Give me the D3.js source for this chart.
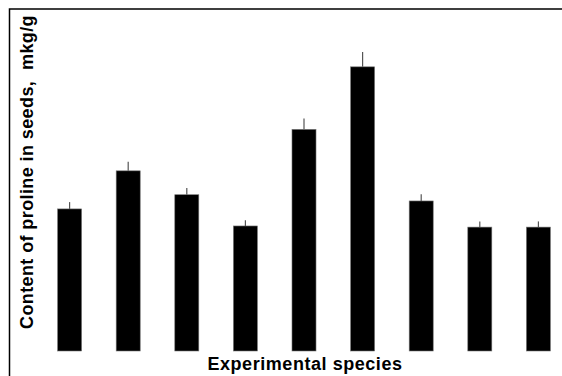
<!DOCTYPE html>
<html>
<head>
<meta charset="utf-8">
<script src="https://cdn.jsdelivr.net/npm/d3@7"></script>
<style>
  html, body { margin: 0; padding: 0; background: #fff; }
  svg text { font-family: "Liberation Sans", Arial, sans-serif; font-weight: bold; fill: #000; }
</style>
</head>
<body>
<div id="chart"></div>
<script>
// species (no labels shown on the axis)
const species = ['S1', 'S2', 'S3', 'S4', 'S5', 'S6', 'S7', 'S8', 'S9'];
// proline content, mkg/g
const proline = [25.0, 31.7, 27.5, 22.0, 39.0, 50.0, 26.4, 21.8, 21.8];
const errors = [1.2, 1.6, 1.2, 1.0, 1.9, 2.6, 1.2, 1.0, 1.0];

const width = 562, height = 376;
const svg = d3.select('#chart').append('svg')
    .attr('width', width).attr('height', height);

// frame (runs off the right and bottom edges)
svg.append('path')
    .attr('d', 'M9.5,' + (height + 2) + 'V9H' + (width + 2))
    .attr('fill', 'none')
    .attr('stroke', '#000')
    .attr('stroke-width', 1.5);

const x = d3.scaleBand()
    .domain(species)
    .range([40, 568])
    .paddingInner(0.59)
    .paddingOuter(0.3);

const y = d3.scaleLinear()
    .domain([0, 60])
    .range([351, 10]);

const rows = species.map((s, i) => ({ s: s, v: proline[i], e: errors[i] }));

svg.append('g').selectAll('rect')
    .data(rows)
    .join('rect')
    .attr('x', d => x(d.s))
    .attr('y', d => y(d.v))
    .attr('width', x.bandwidth())
    .attr('height', d => y(0) - y(d.v))
    .attr('fill', '#000')
    .attr('stroke', '#777')
    .attr('stroke-width', 0.6);

// error bars, upper half only
svg.append('g').selectAll('line')
    .data(rows)
    .join('line')
    .attr('x1', d => x(d.s) + x.bandwidth() / 2)
    .attr('x2', d => x(d.s) + x.bandwidth() / 2)
    .attr('y1', d => y(d.v))
    .attr('y2', d => y(d.v + d.e))
    .attr('stroke', '#555')
    .attr('stroke-width', 1.2);

svg.append('text')
    .attr('x', 305)
    .attr('y', 370)
    .attr('text-anchor', 'middle')
    .style('font-size', '18px')
    .style('letter-spacing', '0.55px')
    .text('Experimental species');

svg.append('text')
    .attr('transform', 'translate(33,172) rotate(-90)')
    .attr('text-anchor', 'middle')
    .style('font-size', '18px')
    .style('letter-spacing', '0.4px')
    .style('white-space', 'pre')
    .text('Content of proline in seeds,  mkg/g');
</script>
</body>
</html>
